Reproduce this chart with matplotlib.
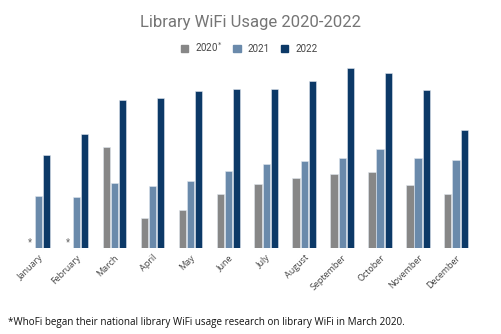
import numpy as np
import matplotlib
matplotlib.use('Agg')
import matplotlib.pyplot as plt
from matplotlib.patches import Patch

months = ['January', 'February', 'March', 'April', 'May', 'June', 'July',
          'August', 'September', 'October', 'November', 'December']
# (relative units, no y axis shown)
usage_2020 = [0, 0, 101, 30, 38, 54, 64, 70, 74, 76, 63, 54]
usage_2021 = [52, 51, 65, 62, 67, 77, 84, 87, 90, 99, 90, 88]
usage_2022 = [93, 114, 148, 150, 157, 159, 159, 167, 180, 175, 158, 118]
series = [('2020$^{*}$', usage_2020, '#878787'),
          ('2021', usage_2021, '#6a8aab'),
          ('2022', usage_2022, '#0c3967')]
no_data = ['January', 'February']

plt.rcParams['font.family'] = ['Roboto', 'DejaVu Sans']

fig = plt.figure(figsize=(5.01, 3.34), dpi=100)
ax = fig.add_axes([19.5 / 501, 1 - 247.7 / 334, 455.5 / 501, 187 / 334])

x = np.arange(len(months))
w = 0.19
step = 0.215
for i, (lab, vals, col) in enumerate(series):
    ax.bar(x + (i - 1) * step, vals, width=w, color=col, label=lab,
           edgecolor='#dfe6ee', linewidth=0.4)

for m in no_data:
    k = months.index(m)
    ax.text(k - step, 0, '*', ha='center', va='bottom', fontsize=7,
            color='#666666')

ax.set_xlim(-0.5, len(months) - 0.5)
ax.set_ylim(0, 187)
ax.set_yticks([])
ax.set_xticks(x)
ax.set_xticklabels(months, rotation=45, ha='right', rotation_mode='anchor',
                   fontsize=6.5, color='#444444', family='Open Sans')
ax.tick_params(axis='x', length=0, pad=4)
for s in ax.spines.values():
    s.set_visible(False)

fig.text(0.5, 1 - 23 / 334, 'Library WiFi Usage 2020-2022', ha='center',
         va='center', fontsize=12, color='#757575')

handles = [Patch(color=c, label=l) for l, v, c in series]
fig.legend(handles=handles, loc='center', bbox_to_anchor=(0.497, 1 - 47 / 334),
           ncol=3, frameon=False, fontsize=7, handlelength=0.8,
           handleheight=0.8, columnspacing=1.1, handletextpad=0.7,
           labelcolor='#444444')

fig.text(8 / 501, 1 - 322 / 334,
         '*WhoFi began their national library WiFi usage research on library WiFi in March 2020.',
         ha='left', va='center', fontsize=7.1, color='#111111', family='Open Sans')

fig.savefig('out.png', dpi=100)
